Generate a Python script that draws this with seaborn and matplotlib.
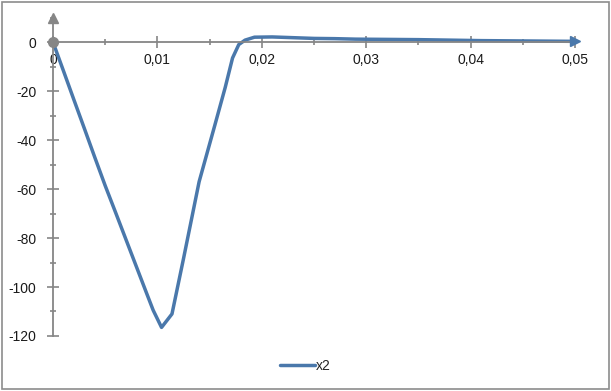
import numpy as np
import pandas as pd
import matplotlib
matplotlib.use("Agg")
import matplotlib.pyplot as plt
import seaborn as sns
from matplotlib.patches import Rectangle
from matplotlib.ticker import MultipleLocator, FuncFormatter

# values
t = [0, 0.001, 0.002, 0.003, 0.004, 0.005, 0.006, 0.007, 0.008, 0.009,
     0.0096, 0.0104, 0.0114, 0.0125, 0.014, 0.0155, 0.0165, 0.0172, 0.0178,
     0.0184, 0.0193, 0.021, 0.023, 0.025, 0.027, 0.029, 0.032, 0.035, 0.038,
     0.041, 0.044, 0.047, 0.05]
x2 = [0, -11.7, -23.5, -35.2, -47.0, -58.6, -69.6, -80.7, -91.8, -102.9,
      -109.5, -116.5, -111.0, -88.5, -57.0, -34.0, -18.5, -6.5, -1.0,
      0.8, 2.0, 2.1, 1.8, 1.5, 1.4, 1.2, 1.1, 1.0, 0.8,
      0.6, 0.5, 0.4, 0.3]
series_name = "x2"

df = pd.DataFrame({"t": t, "value": x2, "series": series_name})

sns.set_style("white")
plt.rcParams["font.family"] = ["Liberation Sans", "DejaVu Sans"]
plt.rcParams["font.size"] = 10

axis_grey = "#868686"
line_blue = "#4a78ab"

fig = plt.figure(figsize=(6.11, 3.91), dpi=100)
ax = fig.add_axes([0.0867, 0.1407, 0.8543, 0.8143])

sns.lineplot(data=df, x="t", y="value", hue="series", palette=[line_blue],
             linewidth=2.5, ax=ax, legend=False, clip_on=False)

ax.set_xlim(0, 0.05)
ax.set_ylim(-120, 10)

# Excel-like axes crossing at zero
for side in ["top", "right"]:
    ax.spines[side].set_visible(False)
ax.spines["left"].set_position(("data", 0))
ax.spines["bottom"].set_position(("data", 0))
for side in ["left", "bottom"]:
    ax.spines[side].set_color(axis_grey)
    ax.spines[side].set_linewidth(1.3)

ax.xaxis.set_major_locator(MultipleLocator(0.01))
ax.xaxis.set_minor_locator(MultipleLocator(0.005))
ax.yaxis.set_major_locator(MultipleLocator(20))
ax.yaxis.set_minor_locator(MultipleLocator(10))
ax.xaxis.set_major_formatter(FuncFormatter(lambda v, p: f"{v:g}".replace(".", ",")))
ax.yaxis.set_major_formatter(FuncFormatter(lambda v, p: "" if v > 0 else f"{v:g}"))

ax.tick_params(axis="both", which="both", direction="inout", color=axis_grey,
               width=1.2, labelcolor="#1a1a1a", labelsize=10,
               bottom=True, left=True)
ax.tick_params(axis="both", which="major", length=8)
ax.tick_params(axis="both", which="minor", length=5)
ax.tick_params(axis="x", which="major", pad=4)
ax.tick_params(axis="y", which="major", pad=8)

# axis-end decorations
ax.plot([t[0]], [x2[0]], "o", color=axis_grey, markersize=7, clip_on=False, zorder=5)
ax.plot([0], [ax.get_ylim()[1]], "^", color=axis_grey, markersize=7, clip_on=False, zorder=5)
ax.plot([t[-1]], [x2[-1]], ">", color=line_blue, markersize=7, clip_on=False, zorder=5)

ax.set_xlabel("")
ax.set_ylabel("")

handle = plt.Line2D([], [], color=line_blue, linewidth=2.5)
fig.legend([handle], [series_name], loc="center", bbox_to_anchor=(0.5, 0.064),
           frameon=False, handlelength=2.5, handletextpad=0.1, fontsize=10)

fig.patches.append(Rectangle((0.004, 0.006), 0.992, 0.99, transform=fig.transFigure,
                             fill=False, edgecolor="#8c8c8c", linewidth=1.2))

fig.savefig("out.png", dpi=100)
